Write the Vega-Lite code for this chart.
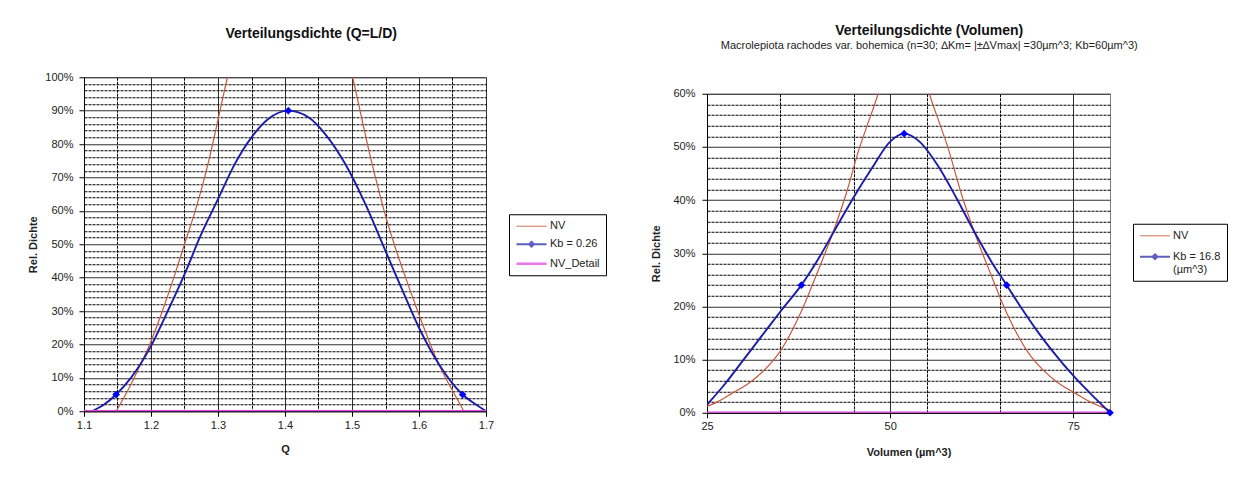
{
  "$schema": "https://vega.github.io/schema/vega-lite/v6.json",
  "background": "white",
  "padding": {"left": 27, "top": 23, "right": 0, "bottom": 0},
  "spacing": 43,
  "center": true,
  "resolve": {
    "scale": {"color": "independent", "strokeWidth": "independent", "shape": "independent"},
    "legend": {"color": "independent", "strokeWidth": "independent", "shape": "independent"}
  },
  "config": {
    "font": "Liberation Sans",
    "view": {"fill": "#FFFFCC", "stroke": "#808080", "strokeWidth": 1},
    "axis": {
      "labelFont": "Liberation Sans", "labelFontSize": 11, "labelColor": "#222",
      "titleFont": "Liberation Sans", "titleFontSize": 11, "titleFontWeight": "bold", "titleColor": "#222",
      "domainColor": "#000", "tickColor": "#000", "labelFlush": false, "labelOverlap": false, "labelBound": false,
      "tickCount": 200
    },
    "legend": {
      "title": null, "orient": "none", "strokeColor": "#000", "fillColor": "#fff", "padding": 6,
      "labelFont": "Liberation Sans", "labelFontSize": 11, "labelColor": "#222",
      "symbolSize": 100, "symbolOffset": 10, "labelOffset": 12, "symbolFillColor": "#0000FF"
    },
    "title": {"font": "Liberation Sans", "fontWeight": "bold", "color": "#111"}
  },
  "datasets": {
    "left_lines": [
      {"series": "NV", "x": 1.148, "y": 0},
      {"series": "NV", "x": 1.158, "y": 0.035},
      {"series": "NV", "x": 1.17, "y": 0.08},
      {"series": "NV", "x": 1.183, "y": 0.135},
      {"series": "NV", "x": 1.198, "y": 0.20},
      {"series": "NV", "x": 1.217, "y": 0.30},
      {"series": "NV", "x": 1.234, "y": 0.40},
      {"series": "NV", "x": 1.25, "y": 0.50},
      {"series": "NV", "x": 1.266, "y": 0.60},
      {"series": "NV", "x": 1.28, "y": 0.70},
      {"series": "NV", "x": 1.292, "y": 0.80},
      {"series": "NV", "x": 1.303, "y": 0.90},
      {"series": "NV", "x": 1.314, "y": 1.00},
      {"series": "NV", "x": 1.33, "y": 1.15},
      {"series": "NV", "x": 1.36, "y": 1.35},
      {"series": "NV", "x": 1.407, "y": 1.45},
      {"series": "NV", "x": 1.454, "y": 1.35},
      {"series": "NV", "x": 1.484, "y": 1.15},
      {"series": "NV", "x": 1.501, "y": 1.00},
      {"series": "NV", "x": 1.512, "y": 0.90},
      {"series": "NV", "x": 1.523, "y": 0.80},
      {"series": "NV", "x": 1.535, "y": 0.70},
      {"series": "NV", "x": 1.548, "y": 0.60},
      {"series": "NV", "x": 1.563, "y": 0.50},
      {"series": "NV", "x": 1.58, "y": 0.40},
      {"series": "NV", "x": 1.598, "y": 0.30},
      {"series": "NV", "x": 1.617, "y": 0.20},
      {"series": "NV", "x": 1.632, "y": 0.13},
      {"series": "NV", "x": 1.645, "y": 0.08},
      {"series": "NV", "x": 1.656, "y": 0.04},
      {"series": "NV", "x": 1.667, "y": 0},
      {"series": "Kb = 0.26", "x": 1.112, "y": 0},
      {"series": "Kb = 0.26", "x": 1.13, "y": 0.02},
      {"series": "Kb = 0.26", "x": 1.148, "y": 0.05},
      {"series": "Kb = 0.26", "x": 1.17, "y": 0.10},
      {"series": "Kb = 0.26", "x": 1.2, "y": 0.195},
      {"series": "Kb = 0.26", "x": 1.225, "y": 0.30},
      {"series": "Kb = 0.26", "x": 1.25, "y": 0.41},
      {"series": "Kb = 0.26", "x": 1.275, "y": 0.53},
      {"series": "Kb = 0.26", "x": 1.3, "y": 0.635},
      {"series": "Kb = 0.26", "x": 1.325, "y": 0.74},
      {"series": "Kb = 0.26", "x": 1.35, "y": 0.82},
      {"series": "Kb = 0.26", "x": 1.375, "y": 0.875},
      {"series": "Kb = 0.26", "x": 1.405, "y": 0.90},
      {"series": "Kb = 0.26", "x": 1.435, "y": 0.88},
      {"series": "Kb = 0.26", "x": 1.46, "y": 0.83},
      {"series": "Kb = 0.26", "x": 1.49, "y": 0.74},
      {"series": "Kb = 0.26", "x": 1.52, "y": 0.62},
      {"series": "Kb = 0.26", "x": 1.55, "y": 0.48},
      {"series": "Kb = 0.26", "x": 1.58, "y": 0.34},
      {"series": "Kb = 0.26", "x": 1.6, "y": 0.25},
      {"series": "Kb = 0.26", "x": 1.63, "y": 0.14},
      {"series": "Kb = 0.26", "x": 1.665, "y": 0.05},
      {"series": "Kb = 0.26", "x": 1.685, "y": 0.02},
      {"series": "Kb = 0.26", "x": 1.7, "y": 0},
      {"series": "NV_Detail", "x": 1.1, "y": 0},
      {"series": "NV_Detail", "x": 1.7, "y": 0}
    ],
    "left_markers": [
      {"x": 1.148, "y": 0.05},
      {"x": 1.405, "y": 0.90},
      {"x": 1.665, "y": 0.05}
    ],
    "right_lines": [
      {"series": "NV", "x": 25, "y": 0.012},
      {"series": "NV", "x": 26.35, "y": 0.02},
      {"series": "NV", "x": 28.35, "y": 0.036},
      {"series": "NV", "x": 30.95, "y": 0.058},
      {"series": "NV", "x": 32.95, "y": 0.082},
      {"series": "NV", "x": 35.05, "y": 0.117},
      {"series": "NV", "x": 37.85, "y": 0.19},
      {"series": "NV", "x": 39.95, "y": 0.26},
      {"series": "NV", "x": 41.95, "y": 0.33},
      {"series": "NV", "x": 43.95, "y": 0.41},
      {"series": "NV", "x": 45.85, "y": 0.50},
      {"series": "NV", "x": 46.85, "y": 0.54},
      {"series": "NV", "x": 48.35, "y": 0.60},
      {"series": "NV", "x": 49.85, "y": 0.68},
      {"series": "NV", "x": 51.85, "y": 0.73},
      {"series": "NV", "x": 53.85, "y": 0.68},
      {"series": "NV", "x": 55.35, "y": 0.60},
      {"series": "NV", "x": 56.85, "y": 0.54},
      {"series": "NV", "x": 57.85, "y": 0.50},
      {"series": "NV", "x": 59.75, "y": 0.41},
      {"series": "NV", "x": 61.75, "y": 0.33},
      {"series": "NV", "x": 63.75, "y": 0.26},
      {"series": "NV", "x": 65.35, "y": 0.205},
      {"series": "NV", "x": 68.65, "y": 0.117},
      {"series": "NV", "x": 70.75, "y": 0.082},
      {"series": "NV", "x": 72.75, "y": 0.058},
      {"series": "NV", "x": 75.35, "y": 0.036},
      {"series": "NV", "x": 77.35, "y": 0.02},
      {"series": "NV", "x": 78.7, "y": 0.012},
      {"series": "NV", "x": 80, "y": 0.005},
      {"series": "Kb", "x": 25, "y": 0.015},
      {"series": "Kb", "x": 27.5, "y": 0.055},
      {"series": "Kb", "x": 30, "y": 0.10},
      {"series": "Kb", "x": 32.5, "y": 0.145},
      {"series": "Kb", "x": 35, "y": 0.19},
      {"series": "Kb", "x": 37.87, "y": 0.24},
      {"series": "Kb", "x": 40, "y": 0.285},
      {"series": "Kb", "x": 42.5, "y": 0.345},
      {"series": "Kb", "x": 45, "y": 0.405},
      {"series": "Kb", "x": 47.5, "y": 0.46},
      {"series": "Kb", "x": 50, "y": 0.51},
      {"series": "Kb", "x": 51.9, "y": 0.525},
      {"series": "Kb", "x": 54, "y": 0.51},
      {"series": "Kb", "x": 56.5, "y": 0.465},
      {"series": "Kb", "x": 59, "y": 0.405},
      {"series": "Kb", "x": 61.5, "y": 0.34},
      {"series": "Kb", "x": 64, "y": 0.28},
      {"series": "Kb", "x": 65.9, "y": 0.24},
      {"series": "Kb", "x": 68, "y": 0.195},
      {"series": "Kb", "x": 70, "y": 0.155},
      {"series": "Kb", "x": 72.1, "y": 0.117},
      {"series": "Kb", "x": 75.3, "y": 0.065},
      {"series": "Kb", "x": 78, "y": 0.027},
      {"series": "Kb", "x": 80, "y": 0},
      {"series": "NV_Detail", "x": 25, "y": 0},
      {"series": "NV_Detail", "x": 80, "y": 0}
    ],
    "right_markers": [
      {"x": 37.87, "y": 0.24},
      {"x": 51.9, "y": 0.525},
      {"x": 65.9, "y": 0.24},
      {"x": 80, "y": 0}
    ]
  },
  "hconcat": [
    {
      "width": 402,
      "height": 334,
      "title": {"text": "Verteilungsdichte (Q=L/D)", "fontSize": 14, "anchor": "middle", "frame": "bounds", "offset": 30, "dx": -6},
      "layer": [
        {
          "data": {"name": "left_lines"},
          "mark": {"type": "line", "interpolate": "monotone", "clip": true},
          "encoding": {
            "x": {
              "field": "x", "type": "quantitative",
              "scale": {"domain": [1.1, 1.7], "nice": false, "zero": false},
              "axis": {
                "title": ["Q", " "],
                "titleLineHeight": 20,
                "values": [1.1, 1.15, 1.2, 1.25, 1.3, 1.35, 1.4, 1.45, 1.5, 1.55, 1.6, 1.65, 1.7],
                "labelExpr": "abs(datum.value*10 - round(datum.value*10)) < 0.001 ? format(datum.value, '.1f') : ''",
                "grid": true,
                "gridColor": {"condition": {"test": "abs(datum.value*10 - round(datum.value*10)) < 0.001", "value": "#303030"}, "value": "#000000"},
                "gridDash": {"condition": {"test": "abs(datum.value*10 - round(datum.value*10)) < 0.001", "value": []}, "value": [3, 1]},
                "gridOpacity": 1,
                "tickSize": 5,
                "tickOpacity": {"condition": {"test": "abs(datum.value*10 - round(datum.value*10)) < 0.001", "value": 1}, "value": 0},
                "labelPadding": 3,
                "titlePadding": 13
              }
            },
            "y": {
              "field": "y", "type": "quantitative",
              "scale": {"domain": [0, 1], "nice": false},
              "axis": {
                "title": "Rel. Dichte",
                "values": [0, 0.02, 0.04, 0.06, 0.08, 0.1, 0.12, 0.14, 0.16, 0.18, 0.2, 0.22, 0.24, 0.26, 0.28, 0.3, 0.32, 0.34, 0.36, 0.38, 0.4, 0.42, 0.44, 0.46, 0.48, 0.5, 0.52, 0.54, 0.56, 0.58, 0.6, 0.62, 0.64, 0.66, 0.68, 0.7, 0.72, 0.74, 0.76, 0.78, 0.8, 0.82, 0.84, 0.86, 0.88, 0.9, 0.92, 0.94, 0.96, 0.98, 1.0],
                "labelExpr": "round(datum.value*100) % 10 == 0 ? round(datum.value*100) + '%' : ''",
                "grid": true,
                "gridColor": {"condition": {"test": "round(datum.value*100) % 10 == 0", "value": "#303030"}, "value": "#000000"},
                "gridDash": {"condition": {"test": "round(datum.value*100) % 10 == 0", "value": []}, "value": [3, 1]},
                "gridOpacity": 1,
                "tickSize": 5,
                "tickOpacity": {"condition": {"test": "round(datum.value*100) % 10 == 0", "value": 1}, "value": 0},
                "labelPadding": 6,
                "titlePadding": 6
              }
            },
            "color": {
              "field": "series", "type": "nominal",
              "scale": {"domain": ["NV", "Kb = 0.26", "NV_Detail"], "range": ["#C8583C", "#1C1CA8", "#E040E0"]},
              "legend": {"legendX": 425, "legendY": 137, "rowPadding": 6}
            },
            "strokeWidth": {
              "field": "series", "type": "nominal",
              "scale": {"domain": ["NV", "Kb = 0.26", "NV_Detail"], "range": [1.2, 2.6, 1.5]}
            }
          }
        },
        {
          "data": {"name": "left_lines"},
          "transform": [{"filter": "false"}],
          "mark": {"type": "point", "filled": true},
          "encoding": {
            "shape": {
              "field": "series", "type": "nominal",
              "scale": {"domain": ["NV", "Kb = 0.26", "NV_Detail"], "range": ["M-3,0H3", "M-3,0H3M0,-0.5L0.5,0L0,0.5L-0.5,0Z", "M-3,0H3"]}
            }
          }
        },
        {
          "data": {"name": "left_markers"},
          "mark": {"type": "point", "shape": "diamond", "filled": true, "size": 60, "color": "#0000FF", "opacity": 1},
          "encoding": {
            "x": {"field": "x", "type": "quantitative"},
            "y": {"field": "y", "type": "quantitative"}
          }
        }
      ]
    },
    {
      "width": 403,
      "height": 319,
      "title": {
        "text": "Verteilungsdichte (Volumen)",
        "subtitle": "Macrolepiota  rachodes var. bohemica  (n=30; ∆Km= |±∆Vmax|  =30µm^3;  Kb=60µm^3)",
        "fontSize": 14, "subtitleFontSize": 11, "subtitleColor": "#222", "subtitlePadding": 2,
        "subtitleFont": "Liberation Sans",
        "anchor": "middle", "frame": "bounds", "offset": 37, "dx": -10
      },
      "layer": [
        {
          "data": {"name": "right_lines"},
          "mark": {"type": "line", "interpolate": "monotone", "clip": true},
          "encoding": {
            "x": {
              "field": "x", "type": "quantitative",
              "scale": {"domain": [25, 80], "nice": false, "zero": false},
              "axis": {
                "title": "Volumen (µm^3)",
                "values": [25, 35, 45, 50, 55, 65, 75],
                "labelExpr": "datum.value % 25 == 0 ? datum.value : ''",
                "grid": true,
                "gridColor": {"condition": {"test": "datum.value % 25 == 0", "value": "#303030"}, "value": "#000000"},
                "gridDash": {"condition": {"test": "datum.value % 25 == 0", "value": []}, "value": [3, 1]},
                "gridOpacity": 1,
                "tickSize": 5,
                "tickOpacity": {"condition": {"test": "datum.value % 25 == 0", "value": 1}, "value": 0},
                "labelPadding": 3,
                "titlePadding": 15
              }
            },
            "y": {
              "field": "y", "type": "quantitative",
              "scale": {"domain": [0, 0.6], "nice": false},
              "axis": {
                "title": "Rel. Dichte",
                "values": [0, 0.02, 0.04, 0.06, 0.08, 0.1, 0.12, 0.14, 0.16, 0.18, 0.2, 0.22, 0.24, 0.26, 0.28, 0.3, 0.32, 0.34, 0.36, 0.38, 0.4, 0.42, 0.44, 0.46, 0.48, 0.5, 0.52, 0.54, 0.56, 0.58, 0.6],
                "labelExpr": "round(datum.value*100) % 10 == 0 ? round(datum.value*100) + '%' : ''",
                "grid": true,
                "gridColor": {"condition": {"test": "round(datum.value*100) % 10 == 0", "value": "#303030"}, "value": "#000000"},
                "gridDash": {"condition": {"test": "round(datum.value*100) % 10 == 0", "value": []}, "value": [3, 1]},
                "gridOpacity": 1,
                "tickSize": 5,
                "tickOpacity": {"condition": {"test": "round(datum.value*100) % 10 == 0", "value": 1}, "value": 0},
                "labelPadding": 7,
                "titlePadding": 11
              }
            },
            "color": {
              "field": "series", "type": "nominal",
              "scale": {"domain": ["NV", "Kb", "NV_Detail"], "range": ["#C8583C", "#1C1CA8", "#E040E0"]},
              "legend": {
                "legendX": 426, "legendY": 130, "rowPadding": 9,
                "values": ["NV", "Kb"],
                "labelExpr": "datum.label == 'Kb' ? ['Kb = 16.8', '(µm^3)'] : datum.label"
              }
            },
            "strokeWidth": {
              "field": "series", "type": "nominal",
              "scale": {"domain": ["NV", "Kb", "NV_Detail"], "range": [1.2, 2.6, 1.5]}
            }
          }
        },
        {
          "data": {"name": "right_lines"},
          "transform": [{"filter": "false"}],
          "mark": {"type": "point", "filled": true},
          "encoding": {
            "shape": {
              "field": "series", "type": "nominal",
              "scale": {"domain": ["NV", "Kb", "NV_Detail"], "range": ["M-3,0H3", "M-3,0H3M0,-0.5L0.5,0L0,0.5L-0.5,0Z", "M-3,0H3"]}
            }
          }
        },
        {
          "data": {"name": "right_markers"},
          "mark": {"type": "point", "shape": "diamond", "filled": true, "size": 60, "color": "#0000FF", "opacity": 1},
          "encoding": {
            "x": {"field": "x", "type": "quantitative"},
            "y": {"field": "y", "type": "quantitative"}
          }
        }
      ]
    }
  ]
}
